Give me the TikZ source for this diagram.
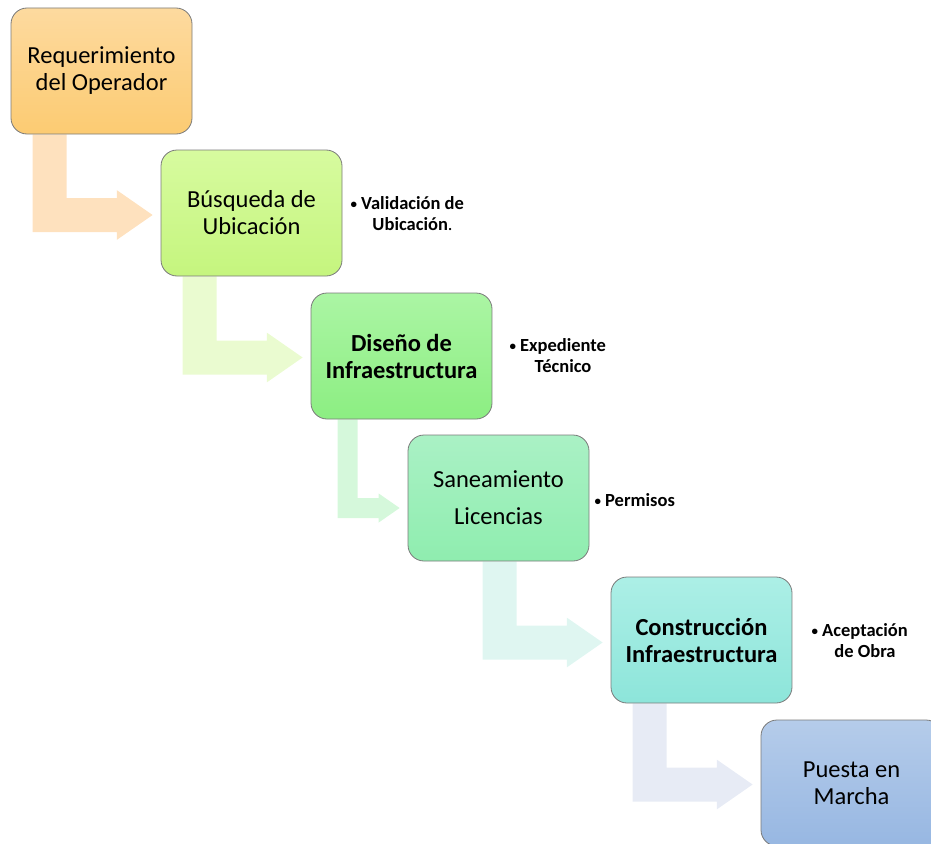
\documentclass[tikz,border=0pt]{standalone}
\usepackage{fontspec}
\setmainfont{Carlito}
\usetikzlibrary{calc,backgrounds}

\definecolor{reqtop}{HTML}{FDDA9F}
\definecolor{reqbot}{HTML}{FCCB72}
\definecolor{bustop}{HTML}{D7FB9F}
\definecolor{busbot}{HTML}{C5F57E}
\definecolor{distop}{HTML}{ABF5A4}
\definecolor{disbot}{HTML}{8CEE82}
\definecolor{santop}{HTML}{AAF1C5}
\definecolor{sanbot}{HTML}{8FEDAF}
\definecolor{contop}{HTML}{ACEFE6}
\definecolor{conbot}{HTML}{8DE5DA}
\definecolor{puetop}{HTML}{B5CCEA}
\definecolor{puebot}{HTML}{97B7E2}
\definecolor{arrreq}{HTML}{FEE1BE}
\definecolor{arrbus}{HTML}{EAFBD0}
\definecolor{arrdis}{HTML}{D5F8DB}
\definecolor{arrsan}{HTML}{DFF6F1}
\definecolor{arrcon}{HTML}{E7EBF5}
\definecolor{boxline}{HTML}{7A7A7A}

\tikzset{
  stepbox/.style 2 args={draw=boxline,line width=0.8pt,rounded corners=16pt,
    minimum width=181pt,minimum height=126pt,align=center,
    shading=axis,top color=#1,bottom color=#2,
    font=\fontsize{24.5}{27}\selectfont},
  stepnote/.style={anchor=base west,align=left,
    font=\bfseries\fontsize{18.5}{21}\selectfont}
}

% bent arrow: colour, from, to, length, shaft width, drop
\newcommand{\stairarrow}[6]{%
  \fill[#1] let \p1=(#2.south), \p2=($(#3.west)+(-8,#6)$) in
    (\x2-#4pt,\y1) -- (\x2-#4pt+#5pt,\y1)
    -- (\x2-#4pt+#5pt,\y2+#5pt/2) -- (\x2-1.05*#5pt,\y2+#5pt/2)
    -- (\x2-1.05*#5pt,\y2+0.73*#5pt) -- (\x2,\y2)
    -- (\x2-1.05*#5pt,\y2-0.73*#5pt) -- (\x2-1.05*#5pt,\y2-#5pt/2)
    -- (\x2-#4pt,\y2-#5pt/2) -- cycle;}

\newcommand{\bulletnote}[1]{\raisebox{1pt}{\scalebox{0.7}{\textbullet}}~\begin{tabular}[t]{@{}c@{}}#1\end{tabular}}

\begin{document}
\begin{tikzpicture}[x=1pt,y=-1pt]
  \useasboundingbox (0,0) rectangle (931,843);

  % steps
  \node[stepbox={reqtop}{reqbot}] (req) at (101.5,71)  {Requerimiento\\del Operador};
  \node[stepbox={bustop}{busbot}] (bus) at (251.5,213) {Búsqueda de\\Ubicación};
  \node[stepbox={distop}{disbot}] (dis) at (401.5,356) {\bfseries Diseño de\\\bfseries Infraestructura};
  \node[stepbox={santop}{sanbot}] (san) at (498.5,498) {Saneamiento\\[10pt]Licencias};
  \node[stepbox={contop}{conbot}] (con) at (701.5,640) {\bfseries Construcción\\\bfseries Infraestructura};
  \node[stepbox={puetop}{puebot}] (pue) at (851.5,783) {Puesta en\\Marcha};

  % results
  \node[stepnote] (val) at (347,209) {\bulletnote{Validación de\\Ubicación\mdseries.}};
  \node[stepnote] (exp) at (506,351) {\bulletnote{Expediente\\Técnico}};
  \node[stepnote] (per) at (591,506) {\bulletnote{Permisos}};
  \node[stepnote] (ace) at (808,636) {\bulletnote{Aceptación\\de Obra}};

  % arrows
  \begin{scope}[on background layer]
    \stairarrow{arrreq}{req}{bus}{120}{34}{2}
    \stairarrow{arrbus}{bus}{dis}{120}{34}{1.5}
    \stairarrow{arrdis}{dis}{san}{62}{20}{10}
    \stairarrow{arrsan}{san}{con}{120}{34}{2.5}
    \stairarrow{arrcon}{con}{pue}{120}{34}{1.5}
  \end{scope}
\end{tikzpicture}
\end{document}
